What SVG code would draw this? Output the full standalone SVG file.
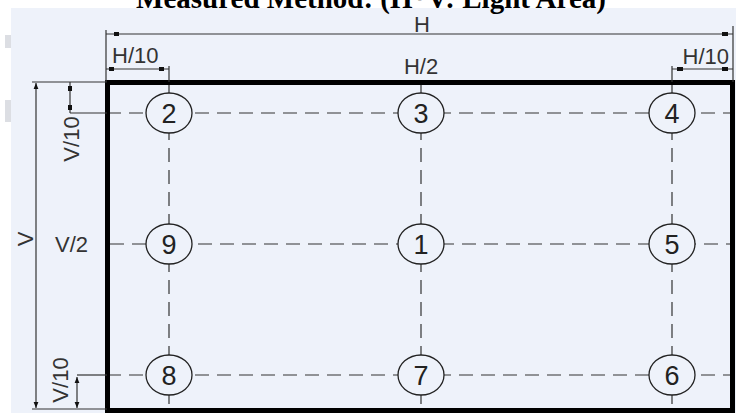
<svg xmlns="http://www.w3.org/2000/svg" width="736" height="413" viewBox="0 0 736 413">
<defs>
<style>
.title{font-family:"Liberation Serif","Times New Roman",serif;font-weight:bold;font-size:29px;fill:#000}
.dim{font-family:"Liberation Sans",Arial,sans-serif;font-size:22px;fill:#333}
.num{font-family:"Liberation Sans",Arial,sans-serif;font-size:27px;fill:#222;text-anchor:middle}
.pt{fill:#eef2fa;stroke:#222;stroke-width:1.3}
.cl{stroke:#333;stroke-width:1.2;stroke-dasharray:14 8;fill:none}
.thin{stroke:#333;stroke-width:1.2;fill:none}
.sq{fill:#111}
</style>
<marker id="ah" viewBox="0 0 10 10" refX="10" refY="5" markerWidth="5" markerHeight="6" orient="auto-start-reverse">
<path d="M0,1 L10,5 L0,9 z" fill="#111"/>
</marker>
</defs>
<rect x="0" y="0" width="736" height="413" fill="#ffffff"/>
<rect x="11" y="8" width="725" height="405" fill="#eef2fa"/>
<rect x="5" y="35" width="6" height="13" fill="#dcdee3"/>
<rect x="5" y="100" width="6" height="22" fill="#dcdee3"/>
<text class="title" x="371" y="8" text-anchor="middle">Measured Method: (H*V: Light Area)</text>

<g id="connectors">
<line class="cl" x1="107" y1="113" x2="733" y2="113"/>
<line class="cl" x1="110" y1="244" x2="733" y2="244"/>
<line class="cl" x1="107" y1="375" x2="733" y2="375"/>
<line class="cl" x1="169" y1="82" x2="169" y2="410"/>
<line class="cl" x1="421" y1="82" x2="421" y2="410"/>
<line class="cl" x1="672" y1="82" x2="672" y2="410"/>
</g>

<g id="area">
<rect x="107.5" y="82.5" width="625" height="328" fill="none" stroke="#000" stroke-width="5"/>
</g>

<g id="dimensions">
<line class="thin" x1="106" y1="30" x2="106" y2="82"/>
<line class="thin" x1="733" y1="26" x2="733" y2="82"/>
<line class="thin" x1="106" y1="34" x2="733" y2="34"/>
<rect class="sq" x="114" y="32" width="5" height="4"/>
<rect class="sq" x="722" y="32" width="6" height="4"/>
<text class="dim" x="422" y="32" text-anchor="middle">H</text>
<line class="thin" x1="106" y1="69" x2="169" y2="69"/>
<line class="thin" x1="169" y1="66" x2="169" y2="82"/>
<rect class="sq" x="109" y="67" width="5" height="4"/>
<rect class="sq" x="159" y="67" width="5" height="4"/>
<text class="dim" x="112" y="63">H/10</text>
<text class="dim" x="421" y="74" text-anchor="middle">H/2</text>
<line class="thin" x1="672" y1="69" x2="733" y2="69"/>
<line class="thin" x1="672" y1="66" x2="672" y2="82"/>
<rect class="sq" x="677" y="67" width="6" height="4"/>
<rect class="sq" x="722" y="67" width="6" height="4"/>
<text class="dim" x="729" y="64" text-anchor="end">H/10</text>
<line class="thin" x1="32" y1="82" x2="107" y2="82"/>
<line class="thin" x1="32" y1="409" x2="107" y2="409"/>
<line class="thin" x1="36" y1="83" x2="36" y2="408" marker-start="url(#ah)" marker-end="url(#ah)"/>
<text class="dim" transform="translate(33,239) rotate(-90)" text-anchor="middle">V</text>
<line class="thin" x1="70" y1="113" x2="107" y2="113"/>
<line class="thin" x1="70" y1="82" x2="70" y2="113"/>
<rect class="sq" x="68" y="86" width="4" height="5"/>
<rect class="sq" x="68" y="105" width="4" height="5"/>
<text class="dim" transform="translate(79,139) rotate(-90)" text-anchor="middle">V/10</text>
<text class="dim" x="55" y="252">V/2</text>
<line class="thin" x1="77" y1="375" x2="107" y2="375"/>
<line class="thin" x1="77" y1="377" x2="77" y2="408" marker-start="url(#ah)" marker-end="url(#ah)"/>
<text class="dim" transform="translate(68,380) rotate(-90)" text-anchor="middle">V/10</text>
</g>

<g id="p2"><ellipse class="pt" cx="169" cy="113" rx="23" ry="20"/><text class="num" x="169" y="123">2</text></g>
<g id="p3"><ellipse class="pt" cx="421" cy="113" rx="23" ry="20"/><text class="num" x="421" y="123">3</text></g>
<g id="p4"><ellipse class="pt" cx="672" cy="113" rx="23" ry="20"/><text class="num" x="672" y="123">4</text></g>
<g id="p9"><ellipse class="pt" cx="169" cy="244" rx="23" ry="20"/><text class="num" x="169" y="254">9</text></g>
<g id="p1"><ellipse class="pt" cx="421" cy="244" rx="23" ry="20"/><text class="num" x="421" y="254">1</text></g>
<g id="p5"><ellipse class="pt" cx="672" cy="244" rx="23" ry="20"/><text class="num" x="672" y="254">5</text></g>
<g id="p8"><ellipse class="pt" cx="169" cy="375" rx="23" ry="20"/><text class="num" x="169" y="385">8</text></g>
<g id="p7"><ellipse class="pt" cx="421" cy="375" rx="23" ry="20"/><text class="num" x="421" y="385">7</text></g>
<g id="p6"><ellipse class="pt" cx="672" cy="375" rx="23" ry="20"/><text class="num" x="672" y="385">6</text></g>
</svg>
